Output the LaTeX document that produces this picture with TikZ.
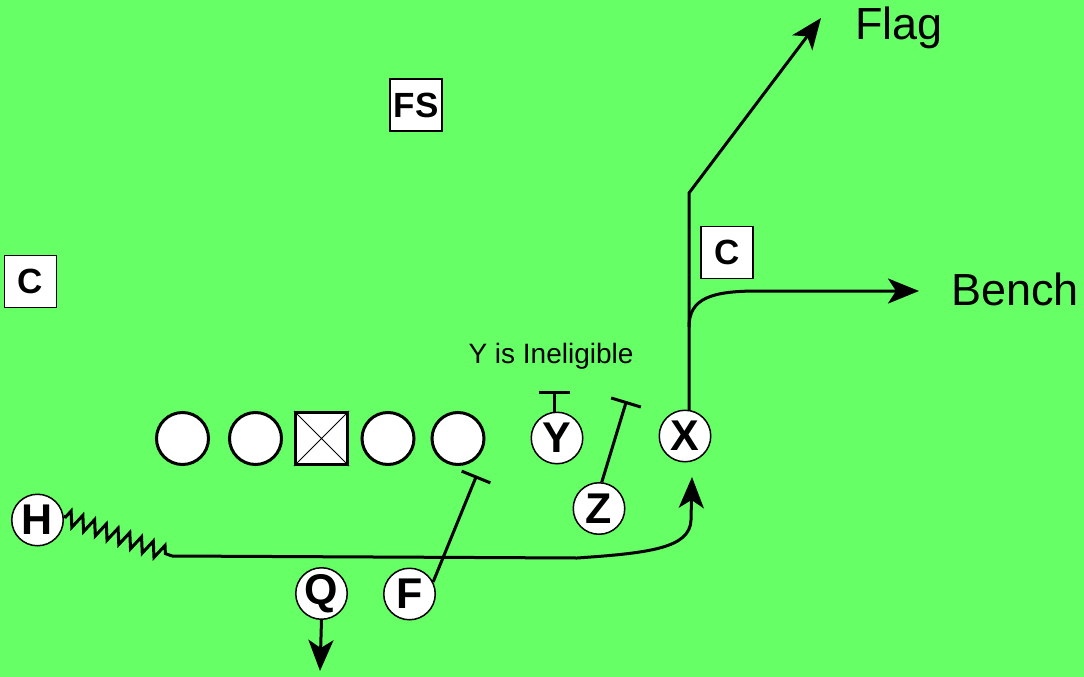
\documentclass[tikz,border=0pt]{standalone}
\usepackage{fontspec}
\setmainfont{Liberation Sans}
\usetikzlibrary{arrows.meta,decorations.pathmorphing,calc}
\definecolor{field}{RGB}{102,255,102}
\begin{document}
\begin{tikzpicture}[x=1pt,y=-1pt,
  player/.style={circle,draw,fill=white,line width=1.5pt,minimum size=51.5pt,inner sep=0pt,font=\fontsize{43}{43}\selectfont\bfseries},
  lineman/.style={circle,draw,fill=white,line width=3pt,minimum size=52pt,inner sep=0pt},
  snapper/.style={rectangle,draw,fill=white,line width=3pt,minimum size=52pt,inner sep=0pt},
  defender/.style={rectangle,draw,fill=white,line width=1.5pt,minimum size=52pt,inner sep=0pt,font=\fontsize{35}{35}\selectfont\bfseries},
  route/.style={line width=3pt},
  tip/.style={-{Stealth[length=31pt,width=25pt,inset=8pt]}},
  biglabel/.style={font=\fontsize{45}{45}\selectfont,inner sep=0pt,anchor=base west}
]
\fill[field] (0,0) rectangle (1084,677);
\useasboundingbox (0,0) rectangle (1084,677);

% offensive line
\node[lineman] (l1) at (182.5,438.5) {};
\node[lineman] (l2) at (255.5,438.5) {};
\node[snapper] (c) at (321.5,438.5) {};
\draw[line width=1pt] (c.north west) -- (c.south east) (c.north east) -- (c.south west);
\node[lineman] (l4) at (388,438.5) {};
\node[lineman] (l5) at (458,438.5) {};

% skill players
\node[player] (Y) at (557,438) {Y};
\node[player] (Z) at (599,508.5) {Z};
\node[player] (X) at (685,436) {X};
\node[player] (H) at (37.5,520) {H};
\node[player] (Q) at (321.5,593.5) {Q};
\node[player] (F) at (409.5,594) {F};

% defenders
\node[defender] (FS) at (416,105) {FS};
\node[defender] (C1) at (30.5,281.5) {C};
\node[defender] (C2) at (727,252.5) {C};

% labels
\node[biglabel] (flag) at (855,40) {Flag};
\node[biglabel] (bench) at (951,305) {Bench};
\node[font=\fontsize{28}{28}\selectfont,inner sep=0pt,anchor=base] (ineligible) at (551,363) {Y is Ineligible};

% coordinates
\coordinate (ys) at ($(Y.center)+(-2.8,-26.4)$);
\coordinate (yb) at (554.2,392);
\coordinate (zb) at (626,402.5);
\coordinate (fb) at (476,477);
\coordinate (hz) at (172,556);
\coordinate (xbreak) at (689,193);
\coordinate (flagtip) at (821,18);
\coordinate (benchturn) at (689,327);
\coordinate (benchtip) at (919,291);
\coordinate (xtip) at (692,477);
\coordinate (qtip) at (320,671);

% X routes
\draw[route,tip,line join=miter] (X.81) -- (xbreak) -- (flagtip);
\draw[route,tip] (benchturn) .. controls (689,298) and (712,291) .. (758,291) -- (benchtip);

% blocks
\draw[route] (ys) -- (yb);
\draw[route] ($(yb)+(-15.5,0)$) -- ($(yb)+(15.5,0)$);
\draw[route] (Z.84) -- (zb);
\draw[route] ($(zb)!15.5pt!90:(Z.84)$) -- ($(zb)!15.5pt!-90:(Z.84)$);
\draw[route] (F.27) -- (fb);
\draw[route] ($(fb)!15.5pt!90:(F.27)$) -- ($(fb)!15.5pt!-90:(F.27)$);

% H motion and route
\draw[route,decorate,decoration={zigzag,segment length=12.5pt,amplitude=7.5pt,pre length=2pt,post length=3pt}] (H.8) -- (hz);
\draw[route,tip] (hz) -- (577,558) .. controls (650,553) and (690,548) .. (691,520) -- (xtip);

% Q drop
\draw[route,tip] (Q.south) -- (qtip);
\end{tikzpicture}
\end{document}
